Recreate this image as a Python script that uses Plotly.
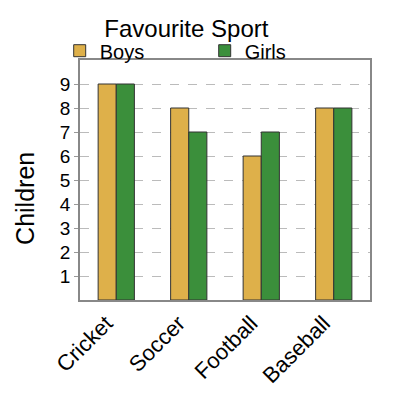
import plotly.graph_objects as go

sports = ["Cricket", "Soccer", "Football", "Baseball"]
boys = [9, 8, 6, 8]
girls = [9, 7, 7, 8]
y_ticks = [1, 2, 3, 4, 5, 6, 7, 8, 9]

fig = go.Figure()
fig.add_trace(go.Bar(x=sports, y=boys, name="Boys",
                     marker=dict(color="#DEB04A", line=dict(color="#333333", width=1))))
fig.add_trace(go.Bar(x=sports, y=girls, name="Girls",
                     marker=dict(color="#3B8F3B", line=dict(color="#333333", width=1))))

# page has an 8px body margin, so the figure is drawn 8px smaller and shifted
fig.update_layout(
    width=392, height=392,
    margin=dict(l=72, r=30, t=52, b=100, autoexpand=False),
    paper_bgcolor="white", plot_bgcolor="white",
    font=dict(family="Liberation Sans, Arial", color="black"),
    title=dict(text="Favourite Sport", x=0.455, xanchor="center", y=0.97, yanchor="top",
               font=dict(size=24)),
    barmode="group", bargap=0.5, bargroupgap=0,
    showlegend=True,
    legend=dict(orientation="h", x=-0.07, xanchor="left", y=1.12, yanchor="top",
                font=dict(size=20), entrywidth=100, entrywidthmode="pixels",
                tracegroupgap=0, bgcolor="rgba(0,0,0,0)"),
)
fig.add_annotation(text="Children", textangle=-90, xref="paper", yref="paper",
                   x=-0.19, y=0.425, xanchor="center", yanchor="middle",
                   showarrow=False, font=dict(size=25))
fig.update_xaxes(showgrid=False, tickangle=-45, tickfont=dict(size=22), ticklabelshift=-10,
                 showline=True, linecolor="#888888", linewidth=1.5, mirror=True, ticks="")
fig.update_yaxes(range=[0, 10], tickvals=y_ticks, tickfont=dict(size=19),
                 showgrid=True, gridcolor="#BBBBBB", griddash="dash", gridwidth=1.2,
                 zeroline=False, showline=True, linecolor="#888888", linewidth=1.5, mirror=True,
                 ticks="outside", ticklen=4, tickcolor="#999999")

fig.write_html("out.html")
